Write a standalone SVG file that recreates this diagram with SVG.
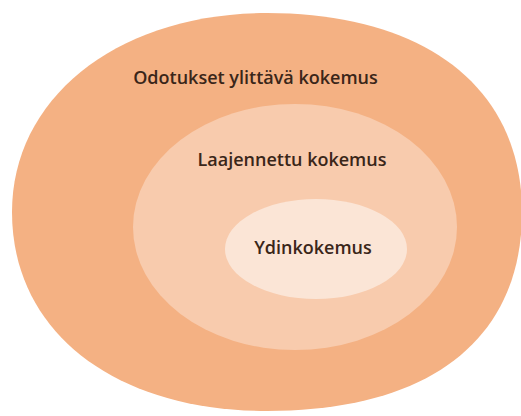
<svg xmlns="http://www.w3.org/2000/svg" width="521" height="416" viewBox="0 0 521 416">
<style>
.lbl{font-family:"Open Sans","Noto Sans","DejaVu Sans",sans-serif;font-size:18px;font-weight:600;fill:#3a2619;text-anchor:middle}
</style>
<rect width="521" height="416" fill="#ffffff"/>
<g id="outer">
<path d="M522,212 C522,339.4 430.2,411 267,411 C114,411 12,331.4 12,212 C12,96.6 119,13 267,13 C425,13 522,87.6 522,212 Z" fill="#F4B183"/>
<text class="lbl" x="255.5" y="84">Odotukset ylittävä kokemus</text>
</g>
<g id="middle">
<ellipse cx="295" cy="227" rx="162" ry="123" fill="#F8CBAD"/>
<text class="lbl" x="292" y="166">Laajennettu kokemus</text>
</g>
<g id="inner">
<ellipse cx="316" cy="249" rx="91" ry="50" fill="#FBE5D6"/>
<text class="lbl" x="313" y="254">Ydinkokemus</text>
</g>
<g id="connectors"/>
</svg>
